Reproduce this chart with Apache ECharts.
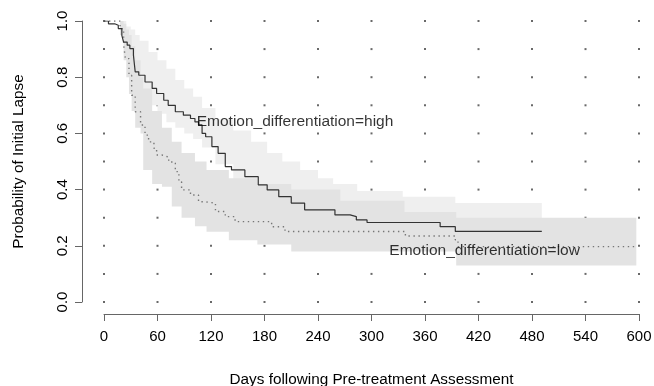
<!DOCTYPE html>
<html>
<head>
<meta charset="utf-8">
<script src="https://cdn.jsdelivr.net/npm/echarts@6/dist/echarts.min.js"></script>
<style>
  html, body { margin: 0; padding: 0; background: #fff; }
  #survival-chart { width: 654px; height: 386px; }
</style>
</head>
<body>
<div id="survival-chart"></div>
<script>
// tick positions
var xTicks = [0, 60, 120, 180, 240, 300, 360, 420, 480, 540, 600];
var yDots = [0, 0.1, 0.2, 0.3, 0.4, 0.5, 0.6, 0.7, 0.8, 0.9, 1.0];

// Emotion_differentiation=high (solid)
var highDays = [0, 5, 12, 16, 20, 22, 26, 29, 33, 35, 39, 46, 54, 59, 67, 72, 80, 89, 97, 102, 106, 110, 114, 121, 128, 136, 143, 158, 173, 183, 196, 210, 225, 259, 276, 283, 295, 377, 394, 491];
var highSurv = [1.0, 0.99, 0.985, 0.973, 0.949, 0.925, 0.914, 0.902, 0.878, 0.819, 0.807, 0.783, 0.76, 0.742, 0.718, 0.70, 0.677, 0.665, 0.653, 0.641, 0.63, 0.60, 0.588, 0.553, 0.529, 0.482, 0.47, 0.446, 0.417, 0.399, 0.375, 0.352, 0.328, 0.31, 0.304, 0.292, 0.283, 0.268, 0.251, 0.251];

// Emotion_differentiation=low (dotted)
var lowDays = [0, 15, 18, 22, 24, 28, 31, 35, 41, 46, 50, 56, 59, 65, 71, 76, 80, 84, 87, 97, 106, 112, 125, 136, 147, 188, 203, 338, 394, 397, 597];
var lowSurv = [1.0, 1.0, 0.973, 0.914, 0.866, 0.807, 0.736, 0.677, 0.63, 0.594, 0.57, 0.547, 0.523, 0.517, 0.505, 0.494, 0.464, 0.428, 0.399, 0.381, 0.357, 0.352, 0.322, 0.304, 0.286, 0.268, 0.251, 0.235, 0.221, 0.197, 0.197];

// confidence bands
var highBandDays = [0, 20, 25, 30, 35, 40, 50, 60, 70, 80, 90, 100, 110, 125, 145, 165, 183, 200, 220, 240, 257, 284, 335, 394, 491];
var highUpper = [1.0, 1.0, 0.98, 0.97, 0.95, 0.93, 0.89, 0.86, 0.83, 0.79, 0.76, 0.73, 0.69, 0.65, 0.61, 0.57, 0.53, 0.50, 0.47, 0.44, 0.42, 0.395, 0.375, 0.352, 0.352];
var highLower = [1.0, 0.93, 0.88, 0.84, 0.76, 0.73, 0.70, 0.67, 0.64, 0.62, 0.60, 0.58, 0.55, 0.49, 0.40, 0.37, 0.34, 0.31, 0.28, 0.27, 0.25, 0.24, 0.23, 0.19, 0.19];

var lowBandDays = [0, 18, 22, 25, 28, 31, 35, 41, 44, 54, 65, 76, 87, 102, 115, 140, 172, 210, 265, 337, 395, 597];
var lowUpper = [1.0, 1.0, 0.99, 0.97, 0.95, 0.91, 0.86, 0.80, 0.76, 0.68, 0.62, 0.57, 0.53, 0.50, 0.47, 0.44, 0.42, 0.40, 0.36, 0.32, 0.30, 0.30];
var lowLower = [1.0, 0.95, 0.86, 0.80, 0.74, 0.68, 0.62, 0.60, 0.47, 0.42, 0.41, 0.34, 0.30, 0.27, 0.25, 0.22, 0.205, 0.18, 0.18, 0.18, 0.13, 0.13];

// curve labels
var labelTexts = ['Emotion_differentiation=high', 'Emotion_differentiation=low'];
var labelDays = [104, 320];
var labelProbs = [0.64, 0.182];

var FONT = 'Liberation Sans, Arial, Helvetica, sans-serif';

function zipPairs(xs, ys) {
    return xs.map(function (x, i) { return [x, ys[i]]; });
}

// step-shaped band polygon through the axes
function bandRenderer(days, lower, upper, color) {
    return function (params, api) {
        var pts = [];
        for (var i = 0; i < days.length; i++) {
            var next = i < days.length - 1 ? days[i + 1] : days[i];
            pts.push(api.coord([days[i], upper[i]]));
            pts.push(api.coord([next, upper[i]]));
        }
        for (var j = days.length - 1; j >= 0; j--) {
            var nxt = j < days.length - 1 ? days[j + 1] : days[j];
            pts.push(api.coord([nxt, lower[j]]));
            pts.push(api.coord([days[j], lower[j]]));
        }
        return {
            type: 'polygon',
            shape: { points: pts },
            style: { fill: color, stroke: null }
        };
    };
}

var dots = [];
xTicks.forEach(function (x) {
    yDots.forEach(function (y) { dots.push([x, y]); });
});

var chart = echarts.init(document.getElementById('survival-chart'));

var option = {
    animation: false,
    backgroundColor: '#ffffff',
    textStyle: { fontFamily: FONT },
    grid: { left: 104, right: 15, top: 21, bottom: 84, outerBoundsMode: 'none' },
    xAxis: {
        type: 'value',
        min: 0,
        max: 600,
        interval: 60,
        offset: 12,
        name: 'Days following Pre-treatment Assessment',
        nameLocation: 'middle',
        nameGap: 58,
        nameTextStyle: { fontSize: 15.3, color: '#000', fontFamily: FONT },
        axisLine: { show: true, onZero: false, lineStyle: { color: '#666', width: 1 } },
        axisTick: { show: true, length: 7, lineStyle: { color: '#666' } },
        axisLabel: { fontSize: 15, color: '#000', margin: 15, fontFamily: FONT },
        splitLine: { show: false }
    },
    yAxis: {
        type: 'value',
        min: 0,
        max: 1,
        interval: 0.2,
        offset: 22,
        name: 'Probability of Initial Lapse',
        nameLocation: 'middle',
        nameGap: 56,
        nameTextStyle: { fontSize: 15.3, color: '#000', fontFamily: FONT },
        axisLine: { show: true, onZero: false, lineStyle: { color: '#666', width: 1 } },
        axisTick: { show: true, length: 7, lineStyle: { color: '#666' } },
        axisLabel: {
            fontSize: 15, color: '#000', margin: 12, rotate: 90, fontFamily: FONT,
            formatter: function (v) { return v.toFixed(1); }
        },
        splitLine: { show: false }
    },
    series: [
        {
            type: 'scatter',
            data: dots,
            symbol: 'rect',
            symbolSize: 2,
            itemStyle: { color: '#444' },
            silent: true,
            z: 1
        },
        {
            type: 'custom',
            data: [[0, 1]],
            renderItem: bandRenderer(highBandDays, highLower, highUpper, '#efefef'),
            clip: true,
            silent: true,
            z: 2
        },
        {
            type: 'custom',
            data: [[0, 1]],
            renderItem: bandRenderer(lowBandDays, lowLower, lowUpper, '#e3e3e3'),
            clip: true,
            silent: true,
            z: 3
        },
        {
            name: 'high',
            type: 'line',
            step: 'end',
            data: zipPairs(highDays, highSurv),
            showSymbol: false,
            symbol: 'none',
            lineStyle: { color: '#333', width: 1.2 },
            z: 5
        },
        {
            name: 'low',
            type: 'line',
            step: 'end',
            data: zipPairs(lowDays, lowSurv),
            showSymbol: false,
            symbol: 'none',
            lineStyle: { color: '#777', width: 1.4, type: [1.4, 3.6] },
            z: 4
        },
        {
            type: 'scatter',
            symbolSize: 0,
            silent: true,
            data: labelDays.map(function (d, i) {
                return { value: [d, labelProbs[i]], name: labelTexts[i] };
            }),
            label: {
                show: true,
                position: 'right',
                distance: 0,
                formatter: '{b}',
                fontSize: 15.5,
                color: '#000',
                fontFamily: FONT
            },
            z: 6
        }
    ]
};

chart.setOption(option);
</script>
</body>
</html>
